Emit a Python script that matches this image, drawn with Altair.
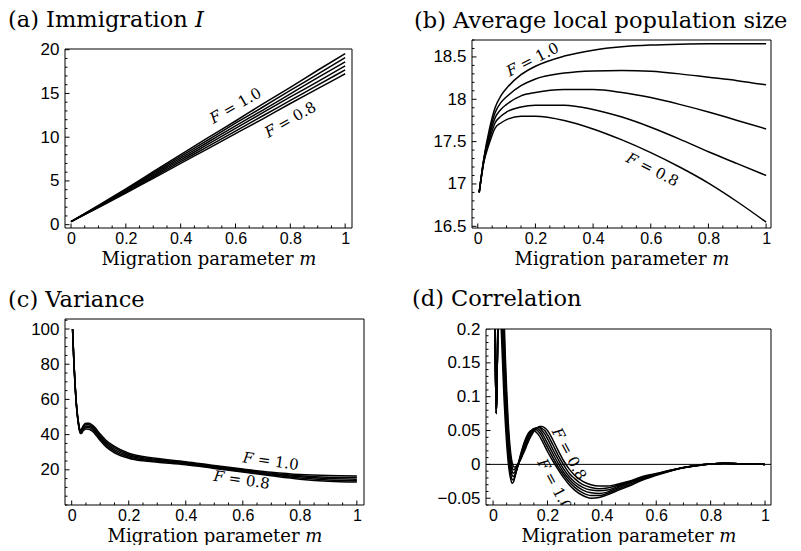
import altair as alt
import pandas as pd

# ---------------- (a) Immigration I ----------------
A_M = [0.0, 0.1, 0.2, 0.3, 0.4, 0.5, 0.6, 0.7, 0.8, 0.9, 1.0]
A_F100 = [0.35, 2.2, 4.1, 6.05, 8.0, 9.95, 11.85, 13.8, 15.7, 17.65, 19.55]
A_F096 = [0.35, 2.15, 4.0, 5.9, 7.8, 9.7, 11.6, 13.45, 15.35, 17.2, 19.1]
A_F092 = [0.35, 2.1, 3.9, 5.75, 7.6, 9.45, 11.3, 13.1, 14.95, 16.8, 18.6]
A_F088 = [0.35, 2.05, 3.8, 5.6, 7.4, 9.2, 11.0, 12.8, 14.6, 16.35, 18.15]
A_F084 = [0.35, 2.0, 3.7, 5.45, 7.2, 8.95, 10.7, 12.45, 14.2, 15.95, 17.7]
A_F080 = [0.35, 1.95, 3.6, 5.3, 7.0, 8.7, 10.4, 12.1, 13.85, 15.55, 17.25]

# ---------------- (b) Average local population size ----------------
B_M = [0.005, 0.02, 0.04, 0.06, 0.08, 0.1, 0.15, 0.2, 0.3, 0.4, 0.5, 0.6, 0.7, 0.8, 0.9, 1.0]
B_F100 = [16.9, 17.28, 17.64, 17.9, 18.04, 18.13, 18.29, 18.39, 18.51, 18.58, 18.62, 18.64, 18.65, 18.655, 18.655, 18.655]
B_F095 = [16.9, 17.27, 17.6, 17.84, 17.96, 18.03, 18.16, 18.24, 18.31, 18.335, 18.34, 18.33, 18.3, 18.26, 18.22, 18.17]
B_F090 = [16.9, 17.26, 17.56, 17.78, 17.88, 17.94, 18.04, 18.08, 18.115, 18.115, 18.08, 18.02, 17.94, 17.85, 17.75, 17.65]
B_F085 = [16.9, 17.25, 17.52, 17.72, 17.8, 17.85, 17.91, 17.93, 17.93, 17.88, 17.79, 17.67, 17.53, 17.38, 17.24, 17.1]
B_F080 = [16.9, 17.24, 17.48, 17.66, 17.72, 17.76, 17.8, 17.8, 17.75, 17.65, 17.52, 17.37, 17.2, 17.01, 16.79, 16.55]

# ---------------- (c) Variance ----------------
C_M = [0.003, 0.008, 0.012, 0.016, 0.02, 0.025, 0.03, 0.035, 0.04, 0.05, 0.06, 0.07, 0.08,
       0.1, 0.12, 0.15, 0.2, 0.25, 0.3, 0.4, 0.5, 0.6, 0.7, 0.8, 0.9, 1.0]
C_F100 = [100, 80.6, 68.6, 58.6, 51.7, 45.8, 42.3, 43.3, 44.9, 46.4, 46.5, 45.7, 44.3,
          40.3, 36.8, 33.3, 29.4, 27.5, 26.4, 24.6, 22.4, 20.4, 18.6, 17.3, 16.7, 16.5]
C_F095 = [100, 80.3, 68.3, 58.3, 51.3, 45.4, 41.9, 42.6, 44.2, 45.6, 45.6, 44.8, 43.4,
          39.4, 35.9, 32.4, 28.7, 26.9, 25.8, 24.1, 22.0, 20.0, 18.1, 16.6, 15.8, 15.6]
C_F090 = [100, 80.0, 68.0, 58.0, 51.0, 45.0, 41.5, 42.0, 43.5, 44.8, 44.8, 44.0, 42.5,
          38.5, 35.0, 31.5, 28.0, 26.3, 25.3, 23.7, 21.6, 19.6, 17.6, 16.0, 15.0, 14.7]
C_F085 = [100, 79.7, 67.7, 57.7, 50.7, 44.6, 41.1, 41.4, 42.8, 44.0, 44.0, 43.2, 41.6,
          37.6, 34.1, 30.6, 27.3, 25.7, 24.8, 23.3, 21.2, 19.1, 17.1, 15.3, 14.2, 13.8]
C_F080 = [100, 79.4, 67.4, 57.4, 50.3, 44.2, 40.7, 40.8, 42.1, 43.2, 43.1, 42.3, 40.7,
          36.7, 33.2, 29.7, 26.6, 25.1, 24.3, 22.9, 20.8, 18.7, 16.6, 14.7, 13.5, 13.0]

# ---------------- (d) Correlation ----------------
D_M = [0.004, 0.008, 0.012, 0.016, 0.02, 0.025, 0.03, 0.035, 0.04, 0.045, 0.05, 0.055, 0.06,
       0.065, 0.07, 0.075, 0.08, 0.09, 0.1, 0.11, 0.12, 0.13, 0.14, 0.15, 0.16, 0.17, 0.18,
       0.19, 0.2, 0.22, 0.24, 0.26, 0.28, 0.3, 0.33, 0.36, 0.39, 0.42, 0.45, 0.5, 0.55, 0.6,
       0.65, 0.7, 0.75, 0.8, 0.85, 0.9, 0.95, 1.0]
D_F100 = [0.30, 0.16, 0.075, 0.16, 0.24, 0.27, 0.20, 0.15, 0.10, 0.062, 0.03, 0.006, -0.011,
          -0.022, -0.028, -0.026, -0.019, -0.003, 0.013, 0.027, 0.038, 0.046, 0.05, 0.05, 0.047, 0.042, 0.035,
          0.027, 0.019, 0.005, -0.008, -0.02, -0.03, -0.038, -0.046, -0.05, -0.049, -0.045, -0.04, -0.032, -0.023, -0.016,
          -0.01, -0.005, -0.002, 0.0005, 0.0015, 0.001, 0.0004, 0.0]
D_F096 = [0.30, 0.16, 0.075, 0.16, 0.25, 0.29, 0.24, 0.18, 0.125, 0.082, 0.046, 0.018, -0.002,
          -0.015, -0.022, -0.023, -0.018, -0.004, 0.011, 0.025, 0.036, 0.045, 0.05, 0.052, 0.051, 0.047, 0.041,
          0.033, 0.025, 0.01, -0.004, -0.016, -0.026, -0.034, -0.042, -0.046, -0.046, -0.043, -0.038, -0.03, -0.022, -0.0155,
          -0.0098, -0.005, -0.0018, 0.0005, 0.0015, 0.001, 0.0004, 0.0]
D_F092 = [0.30, 0.16, 0.075, 0.16, 0.26, 0.31, 0.27, 0.21, 0.15, 0.102, 0.062, 0.03, 0.007,
          -0.008, -0.016, -0.018, -0.015, -0.004, 0.009, 0.022, 0.033, 0.043, 0.049, 0.053, 0.053, 0.051, 0.046,
          0.039, 0.031, 0.016, 0.001, -0.012, -0.022, -0.03, -0.038, -0.042, -0.043, -0.041, -0.036, -0.028, -0.021, -0.015,
          -0.0095, -0.005, -0.0017, 0.0005, 0.0015, 0.001, 0.0004, 0.0]
D_F088 = [0.30, 0.16, 0.075, 0.16, 0.27, 0.33, 0.30, 0.24, 0.175, 0.122, 0.078, 0.043, 0.017,
          0.0, -0.01, -0.013, -0.011, -0.003, 0.008, 0.019, 0.03, 0.04, 0.047, 0.052, 0.054, 0.054, 0.05,
          0.045, 0.038, 0.022, 0.007, -0.007, -0.018, -0.026, -0.034, -0.038, -0.039, -0.038, -0.034, -0.027, -0.02, -0.0145,
          -0.0093, -0.0048, -0.0016, 0.0005, 0.0015, 0.001, 0.0004, 0.0]
D_F084 = [0.30, 0.16, 0.075, 0.16, 0.28, 0.35, 0.33, 0.27, 0.20, 0.142, 0.094, 0.056, 0.027,
          0.008, -0.004, -0.008, -0.007, -0.001, 0.007, 0.017, 0.027, 0.037, 0.045, 0.051, 0.054, 0.055, 0.053,
          0.05, 0.044, 0.029, 0.013, -0.001, -0.013, -0.021, -0.03, -0.034, -0.036, -0.035, -0.032, -0.026, -0.019, -0.014,
          -0.009, -0.0047, -0.0015, 0.0005, 0.0015, 0.001, 0.0004, 0.0]
D_F080 = [0.30, 0.16, 0.075, 0.16, 0.29, 0.37, 0.36, 0.30, 0.225, 0.16, 0.11, 0.068, 0.037,
          0.016, 0.003, -0.003, -0.004, 0.0, 0.006, 0.015, 0.024, 0.034, 0.042, 0.049, 0.053, 0.056, 0.056,
          0.054, 0.05, 0.036, 0.02, 0.005, -0.007, -0.016, -0.025, -0.03, -0.032, -0.032, -0.03, -0.025, -0.018, -0.0135,
          -0.0088, -0.0046, -0.0014, 0.0005, 0.0015, 0.001, 0.0004, 0.0]

X_LABELS = [0, 0.2, 0.4, 0.6, 0.8, 1]

SERIF = "DejaVu Serif"
SANS = "Liberation Sans"
LABEL_EXPR = "replace(toString(datum.value), '-', '\u2212')"


def long_df(ms, series):
    rows = []
    for name, vals in series:
        for m, v in zip(ms, vals):
            rows.append({"m": m, "v": v, "F": name})
    return pd.DataFrame(rows)


def steps(lo, hi, step):
    n = int(round((hi - lo) / step))
    return [round(lo + i * step, 6) for i in range(n + 1)]


ONE = pd.DataFrame({"k": [0]})


def panel(df, xdom, ydom, w, h, ftop, ylab, ymin, title, dx, toff, labels,
          zero_line=False):
    lo, hi = ydom
    ext_hi = hi + ftop * (hi - lo) / (h - ftop)
    xs = alt.Scale(domain=xdom, nice=False, zero=False)
    ys = alt.Scale(domain=[lo, ext_hi], nice=False, zero=False)
    xax = alt.Axis(values=X_LABELS, labelExpr=LABEL_EXPR, labelPadding=2, labelFontSize=16,
                   title="Migration parameter 𝑚", titleY=36, titleBaseline="alphabetic")
    yax = alt.Axis(values=ylab, labelExpr=LABEL_EXPR, title=None)

    def X(f):
        return alt.X(f, scale=xs, axis=xax)

    def Y(f):
        return alt.Y(f, scale=ys, axis=yax)

    layers = []
    if zero_line:
        layers.append(
            alt.Chart(pd.DataFrame({"v": [0.0]})).mark_rule(color="black", strokeWidth=1)
            .encode(y=Y("v:Q"))
        )
    layers.append(
        alt.Chart(df).mark_line(color="black", strokeWidth=1.5, clip=True, interpolate="monotone")
        .encode(x=X("m:Q"), y=Y("v:Q"), detail="F:N", order="m:Q")
    )
    xmin = [t for t in steps(0, 1, 0.05) if all(abs(t - q) > 1e-9 for q in X_LABELS)]
    for vals, ln in ((X_LABELS, 4.5), (xmin, 2.5)):
        layers.append(
            alt.Chart(pd.DataFrame({"m": vals})).mark_rule(color="black", strokeWidth=1)
            .encode(x=X("m:Q"), y=alt.value(h), y2=alt.value(h - ln))
        )
    ymin2 = [t for t in ymin if all(abs(t - q) > 1e-9 for q in ylab)]
    for vals, ln in ((ylab, 4.5), (ymin2, 2.5)):
        layers.append(
            alt.Chart(pd.DataFrame({"v": vals})).mark_rule(color="black", strokeWidth=1)
            .encode(y=Y("v:Q"), x=alt.value(0), x2=alt.value(ln))
        )
    for (lm, lv, txt, ang) in labels:
        layers.append(
            alt.Chart(pd.DataFrame({"m": [lm], "v": [lv], "txt": [txt]}))
            .mark_text(angle=ang, font=SERIF, fontSize=15, color="black", clip=True)
            .encode(x=X("m:Q"), y=Y("v:Q"), text="txt:N")
        )
    if ftop > 0:
        layers.append(
            alt.Chart(ONE).mark_rect(color="white")
            .encode(x=alt.value(0), x2=alt.value(w), y=alt.value(-2), y2=alt.value(ftop))
        )
    layers.append(
        alt.Chart(ONE).mark_rect(fillOpacity=0, stroke="black", strokeWidth=1)
        .encode(x=alt.value(0), x2=alt.value(w), y=alt.value(ftop), y2=alt.value(h))
    )
    return alt.layer(*layers).properties(
        width=w, height=h,
        title=alt.TitleParams(text=title, anchor="start", frame="group", dx=dx, offset=toff,
                              baseline="alphabetic", font=SERIF, fontSize=22.5,
                              fontWeight="normal", color="black"),
    )


df_a = long_df(A_M, [("1.0", A_F100), ("0.96", A_F096), ("0.92", A_F092),
                     ("0.88", A_F088), ("0.84", A_F084), ("0.8", A_F080)])
df_b = long_df(B_M, [("1.0", B_F100), ("0.95", B_F095), ("0.9", B_F090),
                     ("0.85", B_F085), ("0.8", B_F080)])
df_c = long_df(C_M, [("1.0", C_F100), ("0.95", C_F095), ("0.9", C_F090),
                     ("0.85", C_F085), ("0.8", C_F080)])
df_d = long_df(D_M, [("1.0", D_F100), ("0.96", D_F096), ("0.92", D_F092),
                     ("0.88", D_F088), ("0.84", D_F084), ("0.8", D_F080)])

TOFF = -11

pa = panel(df_a, [-0.022, 1.025], [-0.38, 20.08], 287, 188, 9,
           [0, 5, 10, 15, 20], steps(0, 20, 1),
           "(a) Immigration 𝐼", -57, TOFF,
           [(0.6, 13.6, "𝐹 = 1.0", 330), (0.8, 12.0, "𝐹 = 0.8", 330)])
pb = panel(df_b, [-0.02, 1.017], [16.48, 18.7], 299, 188, 0,
           [16.5, 17, 17.5, 18, 18.5], steps(16.5, 18.7, 0.1),
           "(b) Average local population size", -58, TOFF,
           [(0.19, 18.47, "𝐹 = 1.0", 333), (0.606, 17.17, "𝐹 = 0.8", 27)])
pc = panel(df_c, [-0.0235, 1.025], [0, 105.7], 299, 186, 0,
           [20, 40, 60, 80, 100], steps(0, 105, 5),
           "(c) Variance", -57, TOFF,
           [(0.698, 24.9, "𝐹 = 1.0", 8), (0.596, 14.3, "𝐹 = 0.8", 8)])
pd_ = panel(df_d, [-0.026, 1.022], [-0.06, 0.2], 285, 186, 10,
            [-0.05, 0, 0.05, 0.1, 0.15, 0.2], steps(-0.06, 0.2, 0.01),
            "(d) Correlation", -74, TOFF,
            [(0.28, 0.0155, "𝐹 = 0.8", 62), (0.226, -0.03, "𝐹 = 1.0", 62)],
            zero_line=True)

top = alt.hconcat(pa, pb, spacing=61)
bottom = alt.hconcat(pc, pd_, spacing=47)
chart = (
    alt.vconcat(top, bottom, spacing=19)
    .properties(padding=0)
    .configure_view(strokeWidth=0)
    .configure_axis(domain=False, ticks=False, tickSize=0, grid=False, labelFont=SANS,
                    labelFontSize=17, labelColor="black", labelPadding=6, labelFlush=False,
                    labelOverlap=False, titleFont=SERIF, titleFontSize=18,
                    titleFontWeight="normal", titleColor="black")
)

chart.save("out.html", embed_options={"renderer": "svg", "actions": False})
